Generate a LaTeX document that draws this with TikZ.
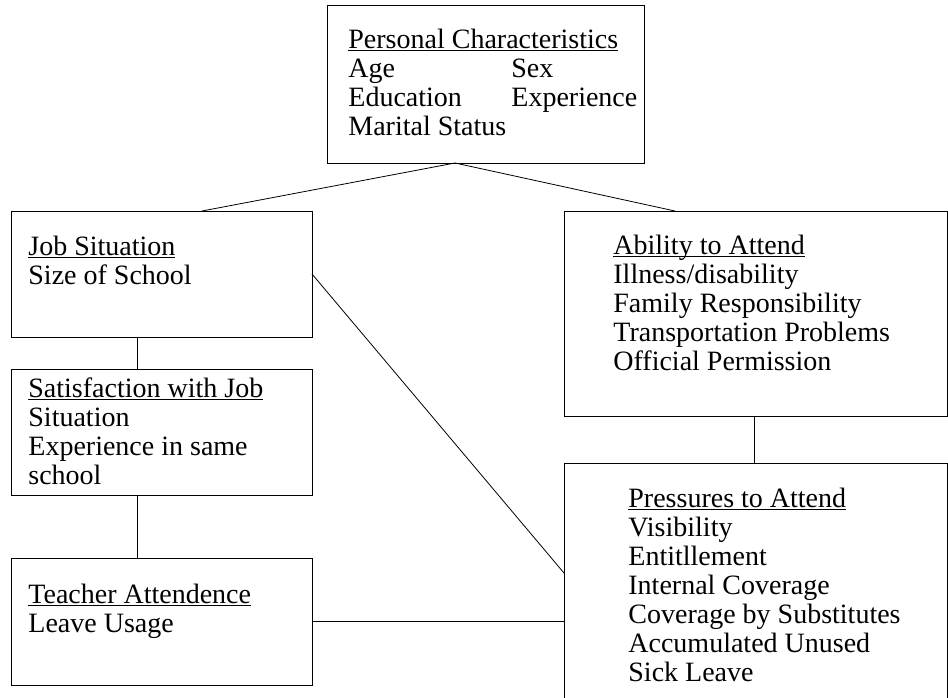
\documentclass[tikz,border=0pt]{standalone}
\usepackage{fontspec}
\setmainfont{Liberation Serif}
\usetikzlibrary{calc}
\newcommand{\heading}[1]{\underline{\smash{#1}}}

\begin{document}
\begin{tikzpicture}[x=1pt, y=-1pt, line width=0.8pt,
	box/.style={draw, rectangle, anchor=north west, inner sep=0pt, outer sep=0pt},
	txt/.style={anchor=north west, align=left, inner sep=0pt, font=\fontsize{28}{29}\selectfont}]
	\useasboundingbox (0,0) rectangle (948,698);
	\clip (0,0) rectangle (948,698);
	
	%boxes
	\node[box, minimum width=317, minimum height=158] (pers) at (327,5) {};
	\node[box, minimum width=301, minimum height=126] (job) at (11,211) {};
	\node[box, minimum width=301, minimum height=126] (sat) at (11,369) {};
	\node[box, minimum width=301, minimum height=127] (teach) at (11,558) {};
	\node[box, minimum width=383.5, minimum height=205] (abil) at (564,211) {};
	\node[box, minimum width=383.5, minimum height=300] (press) at (564,463) {};
	
	%texts (first baseline at the given point)
	\node[txt] (perstxt) at (348,48) {\heading{Personal Characteristics}\\
		\makebox[163pt][l]{Age}Sex\\
		\makebox[163pt][l]{Education}Experience\\
		Marital Status};
	\node[txt] (jobtxt) at (28,255) {\heading{Job Situation}\\Size of School};
	\node[txt] (sattxt) at (28,397) {\heading{Satisfaction with Job}\\Situation\\Experience in same\\school};
	\node[txt] (teachtxt) at (28,603) {\heading{Teacher Attendence}\\Leave Usage};
	\node[txt] (abiltxt) at (613,254) {\heading{Ability to Attend}\\Illness/disability\\Family Responsibility\\Transportation Problems\\Official Permission};
	\node[txt] (presstxt) at (628,507) {\heading{Pressures to Attend}\\Visibility\\Entitllement\\Internal Coverage\\Coverage by Substitutes\\Accumulated Unused\\Sick Leave};
	
	%connectors
	\draw ($(pers.south west)+(128,0)$) -- ($(job.north west)+(191,0)$);
	\draw ($(pers.south west)+(128,0)$) -- ($(abil.north west)+(111,0)$);
	\draw (job.east) -- ($(press.north west)+(0,110)$);
	\draw ($(job.south west)+(126,0)$) -- ($(sat.north west)+(126,0)$);
	\draw ($(sat.south west)+(126,0)$) -- ($(teach.north west)+(126,0)$);
	\draw (teach.east) -- (teach.east -| press.west);
	\draw ($(abil.south west)+(190,0)$) -- ($(press.north west)+(190,0)$);
\end{tikzpicture}
\end{document}
